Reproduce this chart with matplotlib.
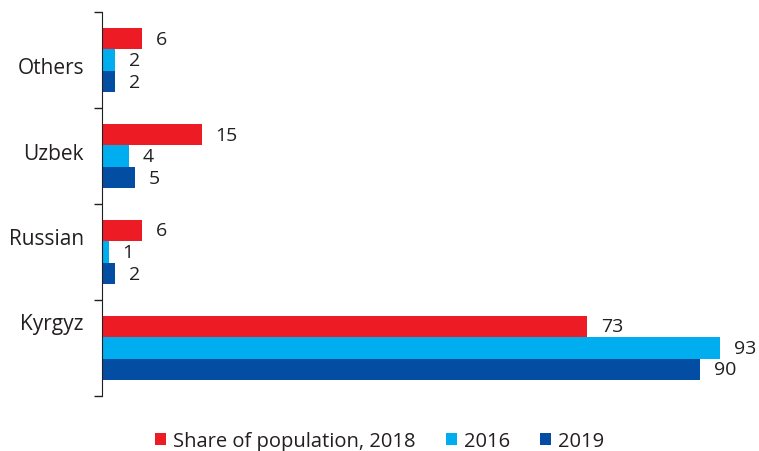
import numpy as np
import matplotlib.pyplot as plt

plt.rcParams['font.family'] = ['Open Sans', 'DejaVu Sans']

categories = ["Kyrgyz", "Russian", "Uzbek", "Others"]
share_2018 = [73, 6, 15, 6]
share_2016 = [93, 1, 4, 2]
share_2019 = [90, 2, 5, 2]
series_names = ["Share of population, 2018", "2016", "2019"]
colors = ["#ED1C24", "#00AEEF", "#034EA2"]

# the category labels in the original sit a bit off the group centres
label_shift = [0.28, 0.17, 0.05, -0.05]

y = np.arange(len(categories))
h = 0.224

fig = plt.figure(figsize=(7.59, 4.52), dpi=100)
ax = fig.add_axes([0.1344, 0.1217, 0.8576, 0.8495])

offsets = [h, 0, -h]
for vals, name, c, off in zip([share_2018, share_2016, share_2019], series_names, colors, offsets):
    bars = ax.barh(y + off, vals, height=h, color=c, label=name)
    for b, v in zip(bars, vals):
        ax.annotate(str(v), (b.get_width(), b.get_y() + b.get_height() / 2),
                    xytext=(10, 0), textcoords="offset points",
                    ha="left", va="center", fontsize=14, color="#231F20")

ax.set_xlim(0, 98)
ax.set_ylim(-0.5, 3.5)
ax.set_xticks([])
ax.set_yticks(np.arange(-0.5, 4, 1))
ax.set_yticklabels([])
ax.tick_params(axis="y", which="major", length=6, width=1, color="#231F20")
ax.set_yticks(y + np.array(label_shift), minor=True)
ax.set_yticklabels(categories, minor=True, fontsize=15, color="#231F20")
ax.tick_params(axis="y", which="minor", length=0, pad=13)
for s in ["top", "right", "bottom"]:
    ax.spines[s].set_visible(False)
ax.spines["left"].set_color("#231F20")

fig.legend(loc="lower center", bbox_to_anchor=(0.5, -0.04), ncol=3, frameon=False,
           fontsize=14.5, handlelength=0.55, handleheight=0.55, handletextpad=0.35,
           columnspacing=1.5, labelcolor="#231F20")

plt.savefig("out.png", dpi=100)
